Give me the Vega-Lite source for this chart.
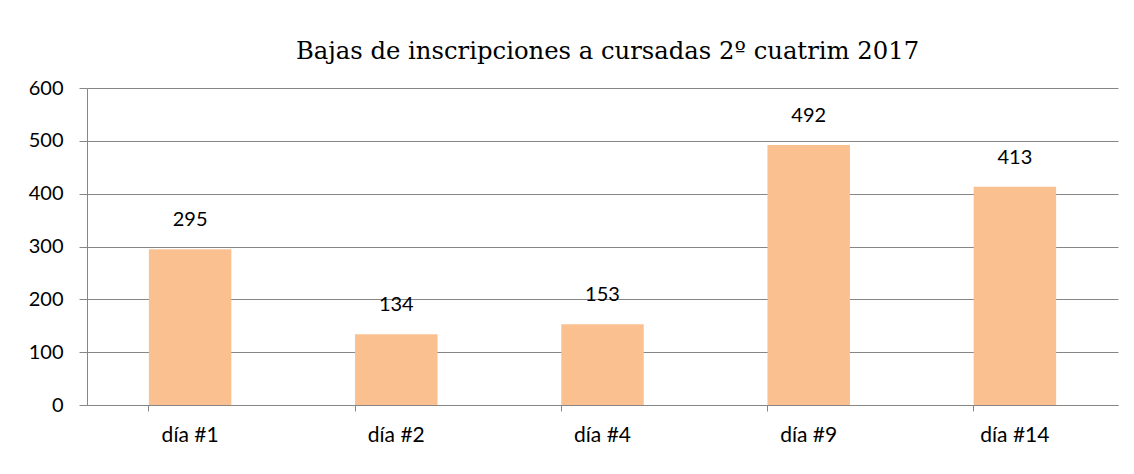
{
  "$schema": "https://vega.github.io/schema/vega-lite/v6.json",
  "width": 1031,
  "height": 317,
  "autosize": {"type": "none"},
  "padding": {"left": 87, "top": 88, "right": 16, "bottom": 69},
  "background": "white",
  "title": {
    "text": "Bajas de inscripciones a cursadas 2º cuatrim 2017",
    "font": "DejaVu Serif",
    "fontSize": 24.3,
    "fontWeight": "normal",
    "color": "#000000",
    "anchor": "middle",
    "frame": "group",
    "baseline": "alphabetic",
    "offset": -5,
    "dx": 5
  },
  "data": {
    "values": [
      {"dia": "día #1", "bajas": 295},
      {"dia": "día #2", "bajas": 134},
      {"dia": "día #4", "bajas": 153},
      {"dia": "día #9", "bajas": 492},
      {"dia": "día #14", "bajas": 413}
    ]
  },
  "encoding": {
    "x": {
      "field": "dia",
      "type": "nominal",
      "sort": null,
      "scale": {"paddingInner": 0.6, "paddingOuter": 0.3},
      "axis": {
        "title": null,
        "labelAngle": 0,
        "labelFont": "Lato",
        "labelFontSize": 21,
        "labelColor": "#000000",
        "labelPadding": 13,
        "bandPosition": 0,
        "tickSize": 6,
        "tickColor": "#868686",
        "domainColor": "#868686",
        "grid": false
      }
    },
    "y": {
      "field": "bajas",
      "type": "quantitative",
      "scale": {"domain": [0, 600], "nice": false},
      "axis": {
        "title": null,
        "values": [0, 100, 200, 300, 400, 500, 600],
        "labelFont": "Lato",
        "labelFontSize": 20,
        "labelColor": "#000000",
        "labelPadding": 16,
        "tickSize": 8,
        "tickColor": "#868686",
        "domainColor": "#868686",
        "gridColor": "#868686",
        "gridOpacity": 1
      }
    }
  },
  "layer": [
    {"mark": {"type": "bar", "color": "#FAC090"}},
    {
      "mark": {"type": "text", "font": "Lato", "fontSize": 20, "color": "#000000", "baseline": "bottom", "dy": -19},
      "encoding": {"text": {"field": "bajas", "type": "quantitative"}}
    }
  ],
  "config": {"view": {"stroke": null}, "axis": {"domainWidth": 1, "tickWidth": 1, "gridWidth": 1}}
}
